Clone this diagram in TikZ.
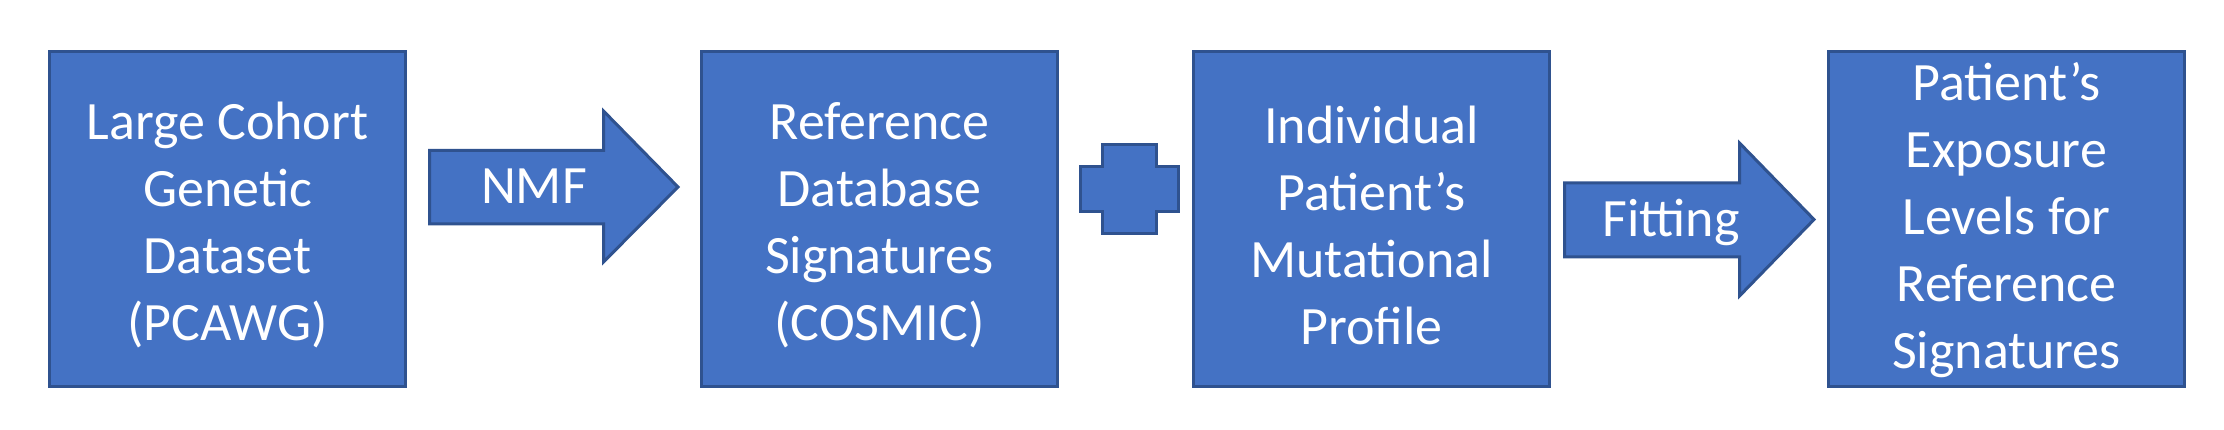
\documentclass[tikz,border=0pt]{standalone}
\usepackage{fontspec}
\setmainfont{Carlito}
\definecolor{boxfill}{HTML}{4472C4}
\definecolor{boxline}{HTML}{2F528F}
\begin{document}
\begin{tikzpicture}[x=1pt,y=-1pt,
  shapebox/.style={draw=boxline,fill=boxfill,line width=3pt,line join=miter},
  stepbox/.style={shapebox,rectangle,minimum width=356pt,minimum height=335pt,inner sep=0pt,
    align=center},
  boxtext/.style={text=white,align=center,inner sep=0pt,font=\fontsize{54}{67}\selectfont},
  lbl/.style={text=white,font=\fontsize{54}{62}\selectfont,inner sep=0pt}]
\useasboundingbox (0,0) rectangle (2224,430);
\node[stepbox] (b1) at (227.5,219) {};
\node[stepbox] (b2) at (879.5,219) {};
\node[stepbox] (b3) at (1371.5,219) {};
\node[stepbox] (b4) at (2006.5,219) {};
\node[boxtext] (t1) at ([yshift=-6pt]b1.center) {Large Cohort\\Genetic\\Dataset\\(PCAWG)};
\node[boxtext] (t2) at ([yshift=-6pt]b2.center) {Reference\\Database\\Signatures\\(COSMIC)};
\node[boxtext] (t3) at ([yshift=-6pt]b3.center) {Individual\\Patient’s\\Mutational\\Profile};
\node[boxtext] (t4) at ([yshift=-1pt]b4.center) {Patient’s\\Exposure\\Levels for\\Reference\\Signatures};
% NMF arrow
\draw[shapebox] (429.5,150.5) -- (603.5,150.5) -- (603.5,111) -- (678,187) -- (603.5,262) -- (603.5,224) -- (429.5,224) -- cycle;
\node[lbl,anchor=base] (nmf) at (534,204) {NMF};
% plus sign
\draw[shapebox] (1102.5,145) -- (1156.5,145) -- (1156.5,167) -- (1178,167) -- (1178,212) -- (1156.5,212) -- (1156.5,234) -- (1102.5,234) -- (1102.5,212) -- (1080,212) -- (1080,167) -- (1102.5,167) -- cycle;
% Fitting arrow
\draw[shapebox] (1564.5,183) -- (1739.5,183) -- (1739.5,143) -- (1814,219.5) -- (1739.5,296) -- (1739.5,257) -- (1564.5,257) -- cycle;
\node[lbl,anchor=base] (fit) at (1671,237) {Fitting};
\end{tikzpicture}
\end{document}
